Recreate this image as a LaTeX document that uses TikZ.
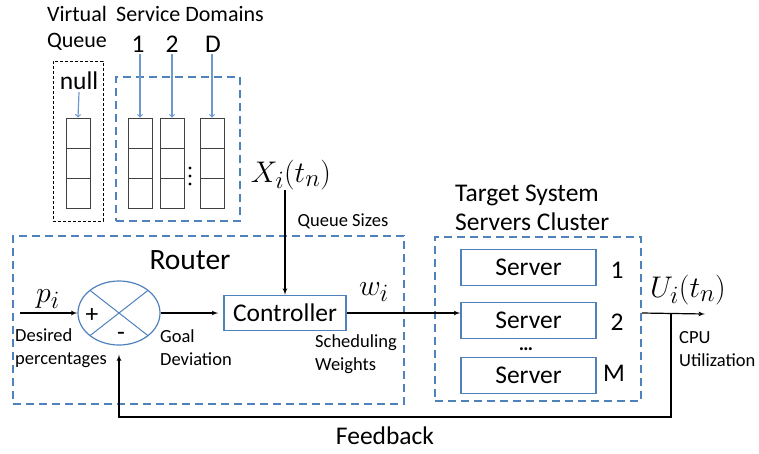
\documentclass[tikz,border=0pt]{standalone}
\usepackage{amsmath}
\usepackage{graphicx}
\usepackage{fontspec}
\setmainfont{Carlito}
\usetikzlibrary{arrows,shapes.geometric,calc}

\definecolor{boxblue}{RGB}{79,129,189}
\definecolor{flowblue}{RGB}{108,155,210}

\newcommand{\bigmath}[1]{\scalebox{1.2}{$#1$}}

\begin{document}
\begin{tikzpicture}[x=1pt, y=-1pt]

\tikzset{cell/.style = {shape=rectangle,draw=black!75,line width=1pt,minimum width=24pt,minimum height=30pt,inner sep=0pt}}
\tikzset{block/.style = {shape=rectangle,draw=boxblue,line width=1.5pt,minimum height=36pt,inner sep=0pt,font=\fontsize{25.5}{29}\selectfont}}
\tikzset{group/.style = {shape=rectangle,draw=boxblue,line width=1.6pt,dash pattern=on 8pt off 5pt,inner sep=0pt}}
\tikzset{edge/.style = {->,> = latex',line width=1.2pt}}
\tikzset{inflow/.style = {->,> = to,draw=flowblue,line width=1.2pt}}
\tikzset{big/.style = {font=\fontsize{25.5}{29}\selectfont,inner sep=0pt}}
\tikzset{top/.style = {font=\fontsize{22}{26}\selectfont,inner sep=0pt}}
\tikzset{small/.style = {font=\fontsize{18.5}{23}\selectfont,inner sep=0pt}}
\tikzset{sym/.style = {font=\fontsize{24.88}{30}\selectfont,inner sep=0pt}}

\useasboundingbox (0,0) rectangle (759,453);

% queues
\node[top,align=center] (vqlab) at (77,28) {Virtual\\Queue};
\node[top] (sdlab) at (190,14) {Service Domains};
\node[big,inner sep=2pt] (one) at (138,44) {1};
\node[big,inner sep=2pt] (two) at (172,44) {2};
\node[big,inner sep=2pt] (dee) at (213,44) {D};
\node[big,inner sep=2pt] (null) at (79,81) {null};
\node[draw,line width=0.8pt,dash pattern=on 3pt off 2pt,minimum width=50pt,minimum height=160pt,inner sep=0pt] (virtual) at (78,141) {};
\node[group,minimum width=124pt,minimum height=144pt] (domains) at (178,149) {};
\foreach \q/\x in {v/78,a/140,b/172,d/212}
  \foreach \k/\y in {1/133,2/163,3/193}
    \node[cell] (\q\k) at (\x,\y) {};
\foreach \y in {168,176,184}
  \fill (190,\y) circle (1.6pt);

% router
\node[group,minimum width=391pt,minimum height=168pt] (router) at (208.5,320) {};
\node[big,font=\fontsize{29.5}{33}\selectfont] (rlab) at (190,260) {Router};
\node[shape=ellipse,draw=boxblue,line width=1.2pt,minimum width=82pt,minimum height=64pt,inner sep=0pt] (sum) at (119,313) {};
\foreach \a in {45,135}
  \draw[boxblue,line width=1pt] ($(sum.center)+(\a:41 and 32)$) -- ($(sum.center)+(\a+180:41 and 32)$);
\node[big] (plus) at (92,315) {+};
\node[big] (minus) at (121,336) {-};
\node[block,minimum width=122pt,minimum height=35pt] (ctrl) at (285,313) {Controller};
\node[sym] (plab) at (48,299) {\bigmath{p_i}};
\node[sym] (wlab) at (374,292) {\bigmath{w_i}};
\node[sym] (xlab) at (291,175) {\bigmath{X_i(t_n)}};
\node[small,align=left,anchor=west] (desired) at (15,348) {Desired\\percentages};
\node[small,align=left,anchor=west] (goal) at (160,348) {Goal\\Deviation};
\node[small,align=left,anchor=west] (sched) at (315,354) {Scheduling\\Weights};
\node[small] (qsizes) at (343,221) {Queue Sizes};

% servers
\node[group,minimum width=206pt,minimum height=164pt] (target) at (538,319) {};
\node[big,align=left,anchor=west] (tlab) at (455,208) {Target System\\Servers Cluster};
\node[block,minimum width=135pt] (srv1) at (528.5,267.5) {Server};
\node[block,minimum width=135pt] (srv2) at (528.5,320.5) {Server};
\node[block,minimum width=135pt] (srvm) at (528.5,375.5) {Server};
\node[big] (num1) at (617,270) {1};
\node[big] (num2) at (617,322) {2};
\node[big] (numm) at (614,373) {M};
\node[font=\fontsize{20}{24}\selectfont,inner sep=0pt] (sdots) at (526,349) {\textbf{…}};
\node[sym] (ulab) at (688,290) {\bigmath{U_i(t_n)}};
\node[small,align=left,anchor=west] (cpu) at (679,349) {CPU\\Utilization};
\node[big] (fblab) at (385,436) {Feedback};

\coordinate (pin) at (20,313);
\coordinate (outend) at (705,314);
\coordinate (fb) at (671,314);
\coordinate (fbturn) at (671,417);

%edges
\draw[inflow] (null.south) -- (v1.north);
\foreach \q/\l in {a/one,b/two,d/dee}
  \draw[inflow] (\q1.north |- \l.south) -- (\q1.north);
\begin{scope}[every node/.style={inner sep=1pt}]
       \draw[edge] (pin) -- (sum.west);
       \draw[edge,shorten >=5pt] (sum.east) -- (ctrl.west);
       \draw[edge] (xlab.south -| ctrl.north) -- (ctrl.north);
       \draw[edge] (ctrl.east) -- (ctrl.east -| srv2.west);
       \draw[edge] (target.east |- ctrl.east) -- (outend);
       \draw[edge,shorten >=9pt] (fb) -- (fbturn) -| (sum.south);
\end{scope}

\end{tikzpicture}
\end{document}
